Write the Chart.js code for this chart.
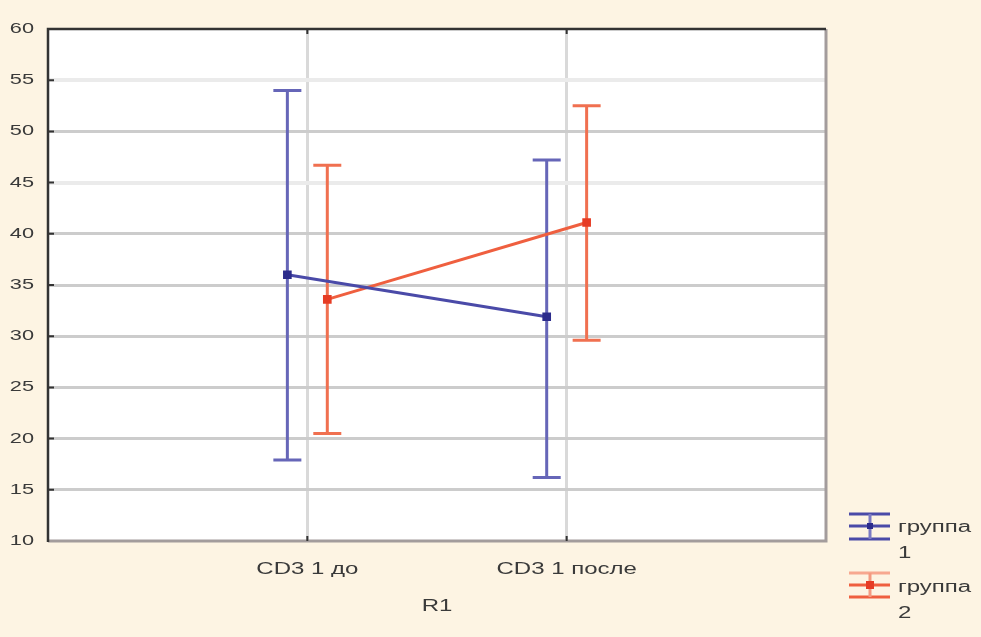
<!DOCTYPE html>
<html>
<head>
<meta charset="utf-8">
<script src="https://cdn.jsdelivr.net/npm/chart.js@4.4.1/dist/chart.umd.min.js"></script>
<style>
  html, body { margin: 0; padding: 0; background: #fdf4e3; }
  #wrap { position: relative; width: 981px; height: 637px; }
  canvas { position: absolute; left: 0; top: 0; }
  .lg { position: absolute; font-family: "Liberation Sans", Arial, sans-serif; font-size: 16px; color: #3a3a3a; transform: scaleX(1.5); transform-origin: 0 50%; white-space: nowrap; line-height: 16px; }
  svg { position: absolute; left: 0; top: 0; }
</style>
</head>
<body>
<div id="wrap">
  <canvas id="c" width="981" height="637"></canvas>
  <svg width="981" height="637" id="legendIcons"></svg>
  <div class="lg" style="left:898px; top:519px;">группа</div>
  <div class="lg" style="left:898px; top:545px;">1</div>
  <div class="lg" style="left:898px; top:579px;">группа</div>
  <div class="lg" style="left:898px; top:605px;">2</div>
</div>
<script>
// ---- data ----
const categories = ['CD3 1 до', 'CD3 1 после'];
const seriesNames = ['группа 1', 'группа 2'];
const group1Mean  = [36.0, 31.9];
const group1Upper = [54.0, 47.2];
const group1Lower = [17.9, 16.2];
const group2Mean  = [33.6, 41.1];
const group2Upper = [46.7, 52.5];
const group2Lower = [20.5, 29.6];
const yTicks = [10, 15, 20, 25, 30, 35, 40, 45, 50, 55, 60];
const xAxisTitle = 'R1';

// ---- styles ----
const BLUE = '#4a4aa8', BLUE_BAR = '#6666b8', BLUE_PT = '#2c2c8c';
const RED = '#ef5f3f', RED_BAR = '#f07050', RED_PT = '#e63c24';
const OFFSET = 0.077;
const TEXT = '#3a3a3a';

// stretch canvas text horizontally (reference text is widened)
const canvas = document.getElementById('c');
const ctx2 = canvas.getContext('2d');
const origFill = CanvasRenderingContext2D.prototype.fillText;
ctx2.fillText = function (t, x, y) {
  this.save();
  this.translate(x, y);
  this.scale(1.5, 1);
  origFill.call(this, t, 0, 0);
  this.restore();
};

function buildPoints(means, off) {
  return means.map((v, i) => ({ x: i + 1 + off, y: v }));
}

const errorBars = [
  { mean: group1Mean, upper: group1Upper, lower: group1Lower, off: -OFFSET, color: BLUE_BAR },
  { mean: group2Mean, upper: group2Upper, lower: group2Lower, off: OFFSET, color: RED_BAR }
];

const plotPlugin = {
  id: 'plotDecor',
  beforeDraw(chart) {
    const { ctx, chartArea: a } = chart;
    ctx.save();
    ctx.fillStyle = '#ffffff';
    ctx.fillRect(a.left, a.top, a.right - a.left, a.bottom - a.top);
    ctx.restore();
  },
  beforeDatasetsDraw(chart) {
    const { ctx } = chart;
    const xs = chart.scales.x, ys = chart.scales.y;
    ctx.save();
    errorBars.forEach(eb => {
      ctx.strokeStyle = eb.color;
      ctx.lineWidth = 3;
      eb.mean.forEach((m, i) => {
        const px = xs.getPixelForValue(i + 1 + eb.off);
        const pt = ys.getPixelForValue(eb.upper[i]);
        const pb = ys.getPixelForValue(eb.lower[i]);
        ctx.beginPath();
        ctx.moveTo(px, pt); ctx.lineTo(px, pb);
        ctx.moveTo(px - 14, pt); ctx.lineTo(px + 14, pt);
        ctx.moveTo(px - 14, pb); ctx.lineTo(px + 14, pb);
        ctx.stroke();
      });
    });
    ctx.restore();
  },
  afterDraw(chart) {
    const { ctx, chartArea: a } = chart;
    const xs = chart.scales.x, ys = chart.scales.y;
    ctx.save();
    // bottom & right borders (grey)
    ctx.strokeStyle = '#a39c9c';
    ctx.lineWidth = 3;
    ctx.beginPath();
    ctx.moveTo(a.left, a.bottom); ctx.lineTo(a.right, a.bottom);
    ctx.moveTo(a.right, a.top); ctx.lineTo(a.right, a.bottom + 1.5);
    ctx.stroke();
    // top & left borders (dark)
    ctx.strokeStyle = '#333333';
    ctx.lineWidth = 2.5;
    ctx.beginPath();
    ctx.moveTo(a.left, a.bottom + 1); ctx.lineTo(a.left, a.top);
    ctx.lineTo(a.right, a.top);
    ctx.stroke();
    // small inner tick marks
    ctx.lineWidth = 2;
    ctx.beginPath();
    yTicks.forEach(v => {
      if (v === 10 || v === 60) return;
      const py = ys.getPixelForValue(v);
      ctx.moveTo(a.left, py); ctx.lineTo(a.left + 6, py);
    });
    categories.forEach((c, i) => {
      const px = xs.getPixelForValue(i + 1);
      ctx.moveTo(px, a.bottom); ctx.lineTo(px, a.bottom - 5);
      ctx.moveTo(px, a.top); ctx.lineTo(px, a.top + 5);
    });
    ctx.stroke();
    ctx.restore();
  }
};

new Chart(canvas, {
  type: 'line',
  data: {
    datasets: [
      {
        label: seriesNames[0],
        data: buildPoints(group1Mean, -OFFSET),
        borderColor: BLUE, borderWidth: 3,
        pointStyle: 'rect', pointRadius: 4, pointBackgroundColor: BLUE_PT, pointBorderColor: BLUE_PT,
        tension: 0
      },
      {
        label: seriesNames[1],
        data: buildPoints(group2Mean, OFFSET),
        borderColor: RED, borderWidth: 3,
        pointStyle: 'rect', pointRadius: 4, pointBackgroundColor: RED_PT, pointBorderColor: RED_PT,
        tension: 0
      }
    ]
  },
  options: {
    responsive: false,
    animation: false,
    devicePixelRatio: 1,
    layout: { padding: { top: 29, right: 155, bottom: 0, left: 0 } },
    plugins: { legend: { display: false }, tooltip: { enabled: false } },
    scales: {
      x: {
        type: 'linear', min: 0, max: 3,
        afterBuildTicks(scale) { scale.ticks = [0, 1, 2, 3].map(v => ({ value: v })); },
        afterFit(scale) { scale.height = 96; },
        ticks: {
          autoSkip: false, maxRotation: 0, padding: 19,
          color: TEXT, font: { family: '"Liberation Sans", Arial, sans-serif', size: 16 },
          callback: v => (v >= 1 && v <= categories.length ? categories[v - 1] : '')
        },
        grid: {
          drawTicks: false,
          color: c => (c.tick && (c.tick.value === 1 || c.tick.value === 2) ? '#d9d9d9' : 'rgba(0,0,0,0)'),
          lineWidth: 3
        },
        border: { display: false },
        title: {
          display: true, text: xAxisTitle, color: TEXT,
          font: { family: '"Liberation Sans", Arial, sans-serif', size: 16 },
          padding: { top: 0, bottom: 21 }
        }
      },
      y: {
        min: 10, max: 60,
        afterBuildTicks(scale) { scale.ticks = yTicks.map(v => ({ value: v })); },
        afterFit(scale) { scale.width = 48; },
        ticks: {
          padding: 14, color: TEXT,
          font: { family: '"Liberation Sans", Arial, sans-serif', size: 14.5 }
        },
        grid: {
          drawTicks: false,
          color: c => {
            const v = c.tick ? c.tick.value : null;
            if (v === 10 || v === 60) return 'rgba(0,0,0,0)';
            if (v === 55 || v === 45) return '#ebebeb';
            return '#cccccc';
          },
          lineWidth: c => (c.tick && (c.tick.value === 55 || c.tick.value === 45) ? 4 : 3)
        },
        border: { display: false }
      }
    }
  },
  plugins: [plotPlugin]
});

// legend icons (decoration)
const svg = document.getElementById('legendIcons');
svg.innerHTML =
  '<g stroke="' + BLUE + '" stroke-width="3">' +
  '<line x1="849" y1="514" x2="890" y2="514"/><line x1="849" y1="526" x2="890" y2="526"/>' +
  '<line x1="849" y1="539" x2="890" y2="539"/><line x1="870" y1="514" x2="870" y2="539" stroke="#7a7ac4"/></g>' +
  '<rect x="867" y="523" width="6" height="6" fill="' + BLUE_PT + '"/>' +
  '<g stroke="' + RED + '" stroke-width="3">' +
  '<line x1="849" y1="573" x2="890" y2="573" stroke="#f7a890"/><line x1="849" y1="585" x2="890" y2="585"/>' +
  '<line x1="849" y1="597" x2="890" y2="597"/><line x1="870" y1="573" x2="870" y2="597" stroke="#f49a80"/></g>' +
  '<rect x="866" y="581" width="8" height="8" fill="' + RED_PT + '"/>';
</script>
</body>
</html>
